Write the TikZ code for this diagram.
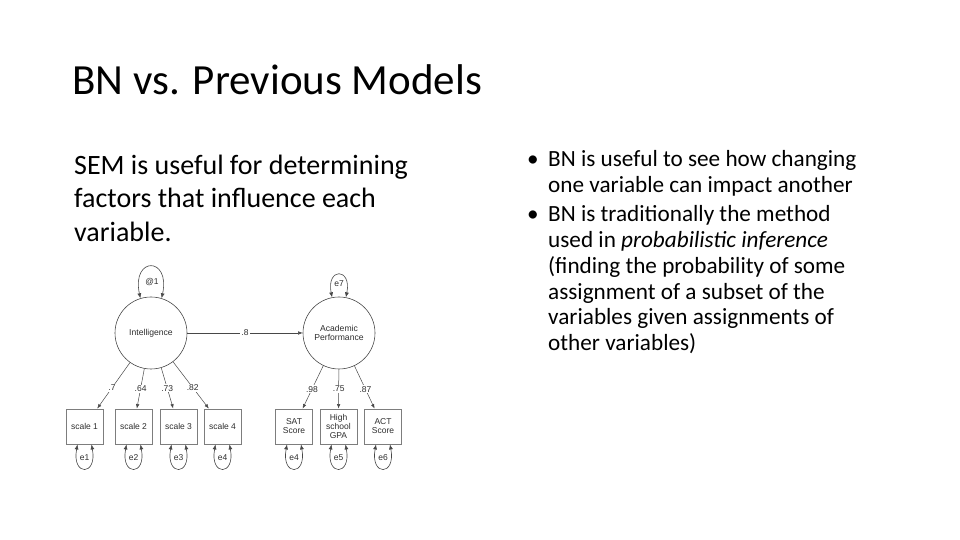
\documentclass[tikz,border=0pt]{standalone}
\usepackage{fontspec}
\setmainfont{Carlito}
\newfontfamily\semfont{Liberation Sans}
\usetikzlibrary{arrows.meta,positioning}
\definecolor{semline}{RGB}{72,72,72}
\definecolor{semtext}{RGB}{45,45,45}
\definecolor{boxgrey}{RGB}{125,125,125}
\tikzset{
  latent/.style={circle,draw=semline,line width=0.6pt,minimum size=72pt,
    inner sep=0pt,align=center,text=semtext,
    font=\semfont\fontsize{8.6}{9.4}\selectfont},
  observed/.style={rectangle,draw=boxgrey,line width=0.9pt,minimum width=37pt,
    minimum height=35pt,inner sep=1pt,align=center,text=semtext,
    font=\semfont\fontsize{8.5}{9}\selectfont},
  errlabel/.style={inner sep=0pt,text=semtext,
    font=\semfont\fontsize{8.5}{9}\selectfont},
  coef/.style={fill=white,inner sep=1pt,text=semtext,
    font=\semfont\fontsize{8.5}{9}\selectfont},
  loading/.style={-{Latex[length=4.5pt,width=3.5pt]},draw=semline,line width=0.5pt},
  varloop/.style={{Latex[length=5pt,width=4pt]}-{Latex[length=5pt,width=4pt]},
    draw=semline,line width=0.6pt},
  slidetext/.style={inner sep=0pt,anchor=base west,align=left}
}
\begin{document}
\begin{tikzpicture}[x=1pt,y=1pt,node distance=6pt]
  \useasboundingbox (0,0) rectangle (960,540);
  % slide text (base anchor sits on the last line)
  \node[slidetext,font=\fontsize{43}{52}\selectfont] (title) at (72,445) {BN vs. Previous Models};
  \node[slidetext,font=\fontsize{28}{33.7}\selectfont] (semtxt) at (74,298.3)
    {SEM is useful for determining\\factors that influence each\\variable.};
  \node[slidetext,font=\fontsize{23.2}{25.8}\selectfont] (bntxt1) at (548,347.5)
    {BN is useful to see how changing\\one variable can impact another};
  \node[slidetext,font=\fontsize{23.2}{25.8}\selectfont] (bntxt2) at (548,189.3)
    {BN is traditionally the method\\used in \textit{probabilistic inference}\\(finding the probability of some\\assignment of a subset of the\\variables given assignments of\\other variables)};
  \node[slidetext,font=\fontsize{23.2}{25.8}\selectfont] (bul1) at (527,373.3) {•};
  \node[slidetext,font=\fontsize{23.2}{25.8}\selectfont] (bul2) at (527,318.3) {•};

  % latent variables
  \node[latent] (intel) at (151,207) {Intelligence};
  \node[latent] (acad) at (339,207) {Academic\\Performance};
  \node[errlabel] (v1) at (152,258) {@1};
  \node[errlabel] (e7) at (339,256) {e7};
  \draw[varloop] (intel.107) .. controls +(-9,42) and +(9,42) .. (intel.73);
  \draw[varloop] (acad.101) .. controls +(-6,30) and +(6,30) .. (acad.79);
  \draw[loading] (intel) -- node[coef,pos=0.5] {.8} (acad);

  % indicators
  \node[observed] (sc1) at (84.5,113.5) {scale 1};
  \node[observed] (sc2) at (133.5,113.5) {scale 2};
  \node[observed] (sc3) at (178.5,113.5) {scale 3};
  \node[observed] (sc4) at (222.5,113.5) {scale 4};
  \node[observed] (sat) at (294,113.5) {SAT\\Score};
  \node[observed] (gpa) at (338.5,113.5) {High\\school\\GPA};
  \node[observed] (act) at (383,113.5) {ACT\\Score};

  \draw[loading] (intel) -- node[coef,pos=0.55] {.7} (sc1);
  \draw[loading] (intel) -- node[coef,pos=0.5] {.64} (sc2);
  \draw[loading] (intel) -- node[coef,pos=0.5] {.73} (sc3);
  \draw[loading] (intel) -- node[coef,pos=0.55] {.82} (sc4);
  \draw[loading] (acad) -- node[coef,pos=0.55] {.98} (sat);
  \draw[loading] (acad) -- node[coef,pos=0.5] {.75} (gpa);
  \draw[loading] (acad) -- node[coef,pos=0.55] {.87} (act);

  % error terms
  \foreach \ind/\err in {sc1/e1,sc2/e2,sc3/e3,sc4/e4,sat/e4,gpa/e5,act/e6}{
    \node[errlabel,below=10pt of \ind] (err-\ind) {\err};
    \draw[varloop] ([xshift=-7pt]\ind.south) .. controls +(-6,-32) and +(6,-32) .. ([xshift=7pt]\ind.south);
  }
\end{tikzpicture}
\end{document}
